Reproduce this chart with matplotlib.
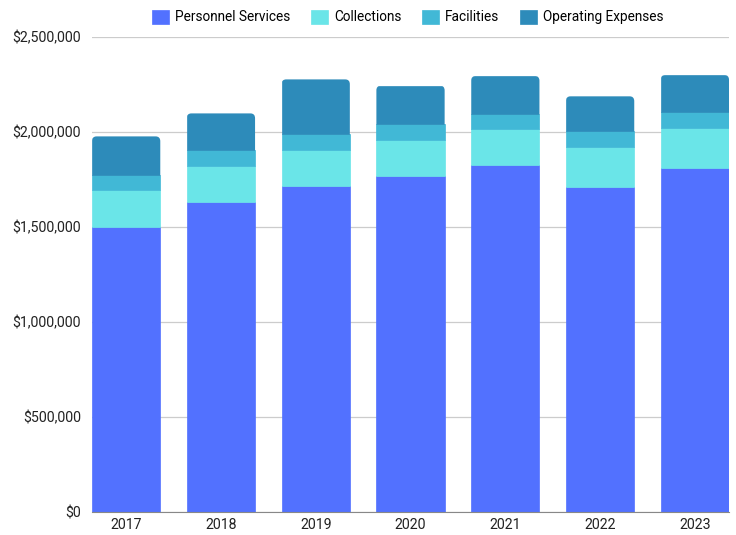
import matplotlib
matplotlib.use("Agg")
import matplotlib.pyplot as plt
from matplotlib.ticker import FuncFormatter, MultipleLocator
from matplotlib.patches import FancyBboxPatch
import numpy as np

years = ["2017", "2018", "2019", "2020", "2021", "2022", "2023"]
personnel = [1500000, 1632000, 1716000, 1768000, 1826000, 1711000, 1811000]
collections = [195000, 189000, 189000, 190000, 190000, 210000, 210000]
facilities = [79000, 84000, 84000, 84000, 79000, 84000, 84000]
operating = [203000, 193000, 288000, 202000, 200000, 183000, 195000]

series = [
    ("Personnel Services", personnel, "#5271FF"),
    ("Collections", collections, "#6AE5E8"),
    ("Facilities", facilities, "#41B8D6"),
    ("Operating Expenses", operating, "#2D8BBA"),
]

plt.rcParams['font.family'] = ['Roboto', 'DejaVu Sans']

fig = plt.figure(figsize=(7.36, 5.35), dpi=100)
ax = fig.add_axes([0.125, 0.043, 0.8655, 0.8878])

x = np.arange(len(years))
width = 0.72
ax.set_xlim(-0.36, len(years) - 1 + 0.36)
ax.set_ylim(0, 2500000)

bottom = np.zeros(len(years))
handles = []
for i, (name, vals, color) in enumerate(series):
    b = ax.bar(x, vals, width, bottom=bottom, color=color, label=name,
               edgecolor=color, linewidth=0.5, zorder=3)
    handles.append(b)
    if i == len(series) - 1:
        # rounded top corners via clip path
        fig.canvas.draw()
        bb = ax.get_window_extent()
        px_x = bb.width / (ax.get_xlim()[1] - ax.get_xlim()[0])
        px_y = bb.height / (ax.get_ylim()[1] - ax.get_ylim()[0])
        aspect = px_x / px_y
        for rect, bt, v in zip(b.patches, bottom, vals):
            clip = FancyBboxPatch((rect.get_x(), bt - 100000), width, v + 100000,
                                  boxstyle="round,pad=0,rounding_size=0.05",
                                  mutation_aspect=aspect, transform=ax.transData,
                                  facecolor="none", edgecolor="none")
            ax.add_patch(clip)
            rect.set_clip_path(clip)
    bottom += np.array(vals)

ax.yaxis.set_major_locator(MultipleLocator(500000))
ax.yaxis.set_major_formatter(FuncFormatter(lambda v, p: f"${v:,.0f}"))
ax.set_xticks(x)
ax.set_xticklabels(years)
ax.tick_params(axis='both', length=0, labelsize=10.2, colors="#222222")
ax.tick_params(axis='y', pad=8)
ax.tick_params(axis='x', pad=4)
ax.grid(axis='y', color="#cccccc", linewidth=0.9, zorder=0)
for s in ["top", "right", "left"]:
    ax.spines[s].set_visible(False)
ax.spines["bottom"].set_color("#888888")
ax.spines["bottom"].set_zorder(4)

fig.legend(handles=handles, loc="upper center", bbox_to_anchor=(0.554, 1.005),
           ncol=4, frameon=False, fontsize=9.8, handlelength=1.22, handleheight=1.22,
           columnspacing=1.55, handletextpad=0.45)

fig.savefig("out.png", dpi=100)
